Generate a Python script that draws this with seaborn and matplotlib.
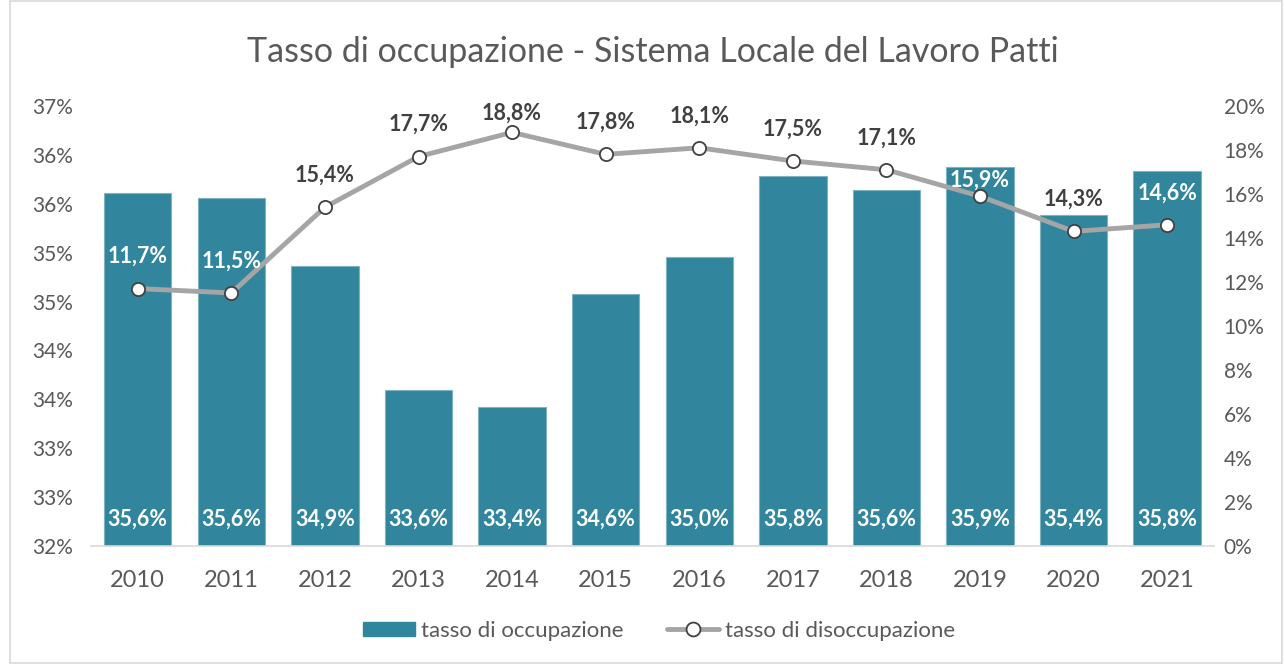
import numpy as np
import pandas as pd
import matplotlib
matplotlib.use('Agg')
import matplotlib.pyplot as plt
import seaborn as sns
from matplotlib.patches import Rectangle
from matplotlib.lines import Line2D
from matplotlib.ticker import FuncFormatter, MultipleLocator

# dati
anni = ['2010', '2011', '2012', '2013', '2014', '2015', '2016', '2017', '2018', '2019', '2020', '2021']
occupazione = [35.61, 35.56, 34.86, 33.60, 33.42, 34.58, 34.96, 35.78, 35.64, 35.88, 35.39, 35.83]
disoccupazione = [11.7, 11.5, 15.4, 17.7, 18.8, 17.8, 18.1, 17.5, 17.1, 15.9, 14.3, 14.6]

titolo = 'Tasso di occupazione - Sistema Locale del Lavoro Patti'
nome_barre = 'tasso di occupazione'
nome_linea = 'tasso di disoccupazione'

sns.set_theme(style='white')
plt.rcParams['font.family'] = ['Lato', 'DejaVu Sans']

col_barre = '#31859C'
col_linea = '#A5A5A5'
col_testo = '#595959'
col_etich = '#404040'

df = pd.DataFrame({'anno': anni, 'occ': occupazione, 'dis': disoccupazione})
df['pos'] = np.arange(len(df))

fig = plt.figure(figsize=(12.85, 6.64), dpi=100)
ax = fig.add_axes([0.0708, 0.1777, 0.8739, 0.6627])

sns.barplot(data=df, x='anno', y='occ', color=col_barre, saturation=1,
            width=0.72, edgecolor='#7FB3C2', linewidth=0.8, ax=ax, zorder=2)
ax.set_ylim(32, 36.5)
ax.set_xlim(-0.5, len(df) - 0.5)
ax.yaxis.set_major_locator(MultipleLocator(0.5))
ax.yaxis.set_major_formatter(FuncFormatter(lambda v, p: f'{int(np.floor(v + 0.5))}%'))
ax.set_xlabel('')
ax.set_ylabel('')
ax.tick_params(axis='both', length=0, labelcolor=col_testo)
ax.tick_params(axis='x', pad=17, labelsize=17)
ax.tick_params(axis='y', pad=13, labelsize=15)
for s in ['top', 'right', 'left']:
    ax.spines[s].set_visible(False)
ax.spines['bottom'].set_color('#D9D9D9')
ax.spines['bottom'].set_linewidth(1.2)

# etichette barre in basso
for i, v in enumerate(occupazione):
    ax.annotate(f'{v:.1f}%'.replace('.', ','), (i, 32), xytext=(0, 19),
                textcoords='offset points', ha='center', va='center',
                color='white', fontsize=15.5, fontweight='bold', zorder=5)

ax2 = ax.twinx()
ax2.set_position(ax.get_position())
sns.lineplot(data=df, x='pos', y='dis', color=col_linea, linewidth=3.5,
             marker='o', markersize=9.5, markerfacecolor='white',
             markeredgecolor=col_etich, markeredgewidth=1.3, ax=ax2, zorder=3)
ax2.set_ylim(0, 20)
ax2.set_xlim(-0.5, len(df) - 0.5)
ax2.yaxis.set_major_locator(MultipleLocator(2))
ax2.yaxis.set_major_formatter(FuncFormatter(lambda v, p: f'{int(v)}%'))
ax2.set_xlabel('')
ax2.set_ylabel('')
ax2.tick_params(axis='y', length=0, labelsize=15, labelcolor=col_testo, pad=7)
for s in ax2.spines.values():
    s.set_visible(False)

# etichette linea: sopra il punto; tenute dentro l'area del grafico e,
# se si sovrappongono al bordo della barra, spostate dentro la barra (in bianco)
off = 23
mezza_h = 8
h_ax = ax.get_position().height * fig.get_figheight() * 72
for i, v in enumerate(disoccupazione):
    p_pt = v / 20 * h_ax
    bar_pt = (occupazione[i] - 32) / 4.5 * h_ax
    lab_pt = min(p_pt + off, h_ax - 5.5)
    if abs(lab_pt - bar_pt) < mezza_h:
        lab_pt = bar_pt - 9.5
    c = 'white' if lab_pt < bar_pt else col_etich
    ax2.annotate(f'{v:.1f}%'.replace('.', ','), (i, v), xytext=(0, lab_pt - p_pt),
                 textcoords='offset points', ha='center', va='center',
                 color=c, fontsize=15.5, fontweight='bold', zorder=6)

fig.suptitle(titolo, x=0.508, y=0.921, va='center', fontsize=24.5, color=col_testo)

handles = [Rectangle((0, 0), 1, 1, color=col_barre),
           Line2D([], [], color=col_linea, linewidth=3.5, marker='o', markersize=10,
                  markerfacecolor='white', markeredgecolor=col_etich, markeredgewidth=1.3)]
fig.legend(handles, [nome_barre, nome_linea], loc='center', bbox_to_anchor=(0.513, 0.05),
           ncol=2, frameon=False, fontsize=16, labelcolor=col_testo,
           handlelength=2.35, handleheight=0.65, handletextpad=0.27, columnspacing=1.94)

fig.patches.append(Rectangle((0.008, 0.002), 0.99, 0.996, transform=fig.transFigure,
                             fill=False, edgecolor='#D9D9D9', linewidth=1.2))

fig.savefig('out.png', dpi=100)
